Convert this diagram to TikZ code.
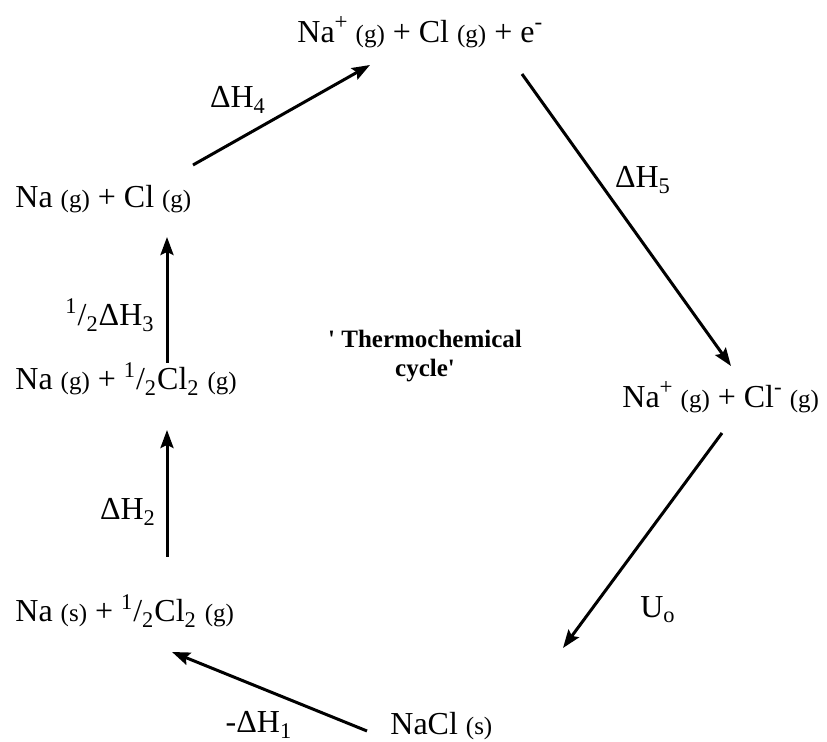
\documentclass[tikz,border=0pt]{standalone}
\usepackage{fontspec}
\setmainfont{Liberation Serif}
\newfontfamily\quotefont{Liberation Serif}
\usetikzlibrary{arrows.meta}

\newcommand{\phase}[1]{{\fontsize{12.5pt}{14pt}\selectfont #1}}
\newcommand{\up}[1]{\raisebox{0.42em}{\fontsize{11.5pt}{12pt}\selectfont #1}}
\newcommand{\halfof}{\textsuperscript{1}/\textsubscript{2}}

\begin{document}
\begin{tikzpicture}[
  x=0.5pt, y=-0.5pt,
  every node/.style={inner sep=0pt},
  spc/.style={font=\fontsize{16pt}{18pt}\selectfont, anchor=base west},
  lbl/.style={font=\fontsize{16pt}{18pt}\selectfont},
  ttl/.style={font=\quotefont\fontsize{12.5pt}{14.5pt}\selectfont\bfseries,
              align=center},
  ar/.style={-{Stealth[length=9pt,width=6.5pt,inset=1.5pt]}, line width=1.5pt},
]
\useasboundingbox (0,0) rectangle (827,742);

% =============================================================== species
\node[spc] (ionatom) at (297,43)
  {Na\up{+} \phase{(g)} + Cl \phase{(g)} + e\up{-}};
\node[spc] (atoms) at (15,208) {Na \phase{(g)} + Cl \phase{(g)}};
\node[spc] (halfgas) at (15,390)
  {Na \phase{(g)} + \halfof Cl\textsubscript{2} \phase{(g)}};
\node[spc] (elem) at (15,622)
  {Na \phase{(s)} + \halfof Cl\textsubscript{2} \phase{(g)}};
\node[spc] (salt) at (390,735) {NaCl \phase{(s)}};
\node[spc] (ions) at (622,408)
  {Na\up{+} \phase{(g)} + Cl\up{-} \phase{(g)}};

\node[ttl] (cycle) at (425,356) {' Thermochemical\\cycle'};

% =============================================================== arrows
\coordinate (h4s) at (193,165);  \coordinate (h4e) at (370,65);
\coordinate (h5s) at (522,74);   \coordinate (h5e) at (731,366);
\coordinate (h3s) at (167,363);  \coordinate (h3e) at (167,237);
\coordinate (h2s) at (167,557);  \coordinate (h2e) at (167,430);
\coordinate (us)  at (722,433);  \coordinate (ue)  at (563,648);
\coordinate (h1s) at (367,731);  \coordinate (h1e) at (172,652);

\foreach \a/\b in {h4s/h4e, h5s/h5e, h3s/h3e, h2s/h2e, us/ue, h1s/h1e}
  \draw[ar] (\a) -- (\b);

% --- enthalpy labels ---
\node[lbl] (dh4) at (238,100) {ΔH\textsubscript{4}};
\node[lbl] (dh5) at (643,180) {ΔH\textsubscript{5}};
\node[lbl] (dh3) at (110,315) {\halfof ΔH\textsubscript{3}};
\node[lbl] (dh2) at (128,512) {ΔH\textsubscript{2}};
\node[lbl] (uo)  at (658,610) {U\textsubscript{o}};
\node[lbl, anchor=base] (dh1) at (259,733) {-ΔH\textsubscript{1}};

\end{tikzpicture}
\end{document}
